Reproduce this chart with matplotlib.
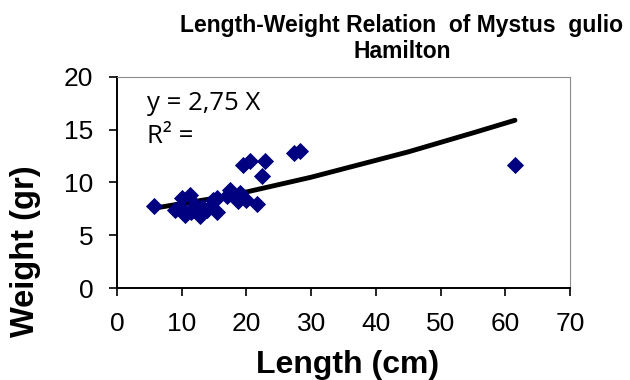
import matplotlib
matplotlib.use('Agg')
import matplotlib.pyplot as plt

# scatter points
length = [5.7, 9.0, 9.7, 10.0, 10.5, 11.3, 11.5, 12.1, 12.8, 13.1, 13.9, 14.9, 15.4, 15.4,
          17.0, 17.5, 18.7, 19.0, 20.0, 19.5, 20.6, 21.6, 22.4, 22.9, 27.3, 28.3, 61.5]
weight = [7.8, 7.4, 7.7, 8.5, 6.9, 8.8, 7.2, 7.9, 6.8, 7.7, 7.4, 8.3, 7.2, 8.5,
          8.7, 9.3, 8.2, 9.0, 8.3, 11.7, 12.0, 8.0, 10.6, 12.0, 12.8, 13.0, 11.7]

# trendline points
trend_x = [5.6, 10, 15, 20, 25, 30, 35, 40, 45, 50, 55, 61.5]
trend_y = [7.55, 8.0, 8.5, 9.1, 9.8, 10.5, 11.3, 12.1, 12.9, 13.8, 14.7, 15.9]

xticks = [0, 10, 20, 30, 40, 50, 60, 70]
yticks = [0, 5, 10, 15, 20]

fig = plt.figure(figsize=(6.3, 3.8), dpi=100)
ax = fig.add_axes([0.1857, 0.2421, 0.719, 0.5553])

ax.plot(trend_x, trend_y, color='black', lw=3.5, solid_capstyle='round', zorder=2)
ax.plot(length, weight, ls='none', marker='D', ms=7.8, color='#000080',
        mec='#000080', mew=0.6, zorder=3)

ax.set_xlim(0, 70)
ax.set_ylim(0, 20)
ax.set_xticks(xticks)
ax.set_yticks(yticks)
ax.tick_params(direction='out', length=6, width=1.2, pad=11, labelsize=19, color='black')
for lab in ax.get_xticklabels() + ax.get_yticklabels():
    lab.set_family('Liberation Sans')

ax.spines['left'].set_color('black')
ax.spines['bottom'].set_color('black')
ax.spines['left'].set_linewidth(1.4)
ax.spines['bottom'].set_linewidth(1.4)
ax.spines['top'].set_color('#8c8c8c')
ax.spines['right'].set_color('#8c8c8c')

ax.text(0.066, 0.8436, 'y = 2,75 X', transform=ax.transAxes, family='Open Sans',
        fontsize=18.5, va='baseline')
ax.text(0.066, 0.687, 'R² =', transform=ax.transAxes, family='Open Sans',
        fontsize=18.5, va='baseline')

fig.text(0.638, 0.9158, 'Length-Weight Relation  of Mystus  gulio', ha='center',
         va='baseline', family='Liberation Sans', weight='bold', fontsize=16.5)
fig.text(0.638, 0.847, 'Hamilton', ha='center', va='baseline',
         family='Liberation Sans', weight='bold', fontsize=16.5)

fig.text(0.551, 0.0184, 'Length (cm)', ha='center', va='baseline',
         family='Liberation Sans', weight='bold', fontsize=23)
fig.text(0.0397, 0.3395, 'Weight (gr)', ha='center', va='center', rotation=90,
         family='Liberation Sans', weight='bold', fontsize=23.5)

fig.savefig('out.png', dpi=100)
